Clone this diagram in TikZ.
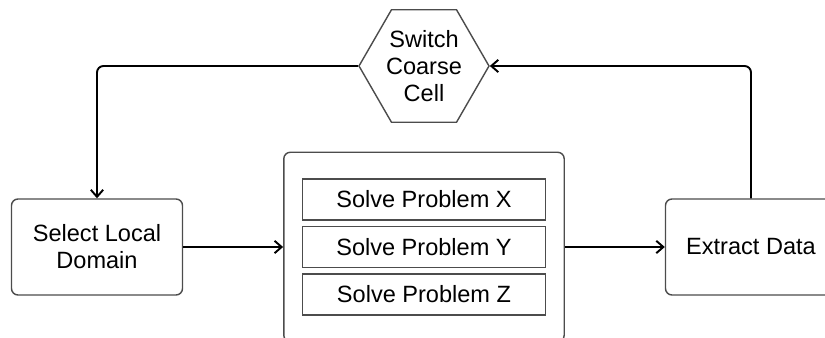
\documentclass[tikz,border=0pt]{standalone}
\usepackage{fontspec}
\setmainfont{Liberation Sans}
\usetikzlibrary{arrows.meta,shapes.geometric,fit}

\begin{document}
\begin{tikzpicture}[->,>={Straight Barb[length=4pt,width=7pt]},line width=1.1pt,
                    node distance=6.54cm,font=\fontsize{13.4}{15.4}\selectfont]

  \tikzstyle{stage}=[rectangle,rounded corners=0.13cm,draw=black!70,line width=0.8pt,
                     minimum width=3.42cm,minimum height=1.92cm,align=center]
  \tikzstyle{task}=[rectangle,draw=black!70,line width=0.8pt,
                    minimum width=4.86cm,minimum height=0.82cm]
  \tikzstyle{switch}=[regular polygon,regular polygon sides=6,draw=black!70,line width=0.8pt,
                      minimum size=2.6cm,inner sep=0pt,align=center]

  \clip (0,0) rectangle (16.5,-6.76);

  \node[stage] (SLD) at (1.94,-4.94) {Select Local \\ Domain};
  \node[task]  (SPY) [right of=SLD]                    {Solve Problem Y};
  \node[task]  (SPX) [above of=SPY,node distance=0.95cm] {Solve Problem X};
  \node[task]  (SPZ) [below of=SPY,node distance=0.95cm] {Solve Problem Z};
  \node[stage,fit=(SPX)(SPZ),inner xsep=0.36cm,inner ysep=0.52cm] (SLV) {};
  \node[stage] (EXD) [right of=SPY]                    {Extract Data};

  \node[switch] (SCC) [above of=SLV,node distance=3.62cm] {Switch \\ Coarse \\ Cell};

  \path
  (SLD) edge (SLV)
  (SLV) edge (EXD)
  (EXD.north) edge [rounded corners=0.13cm,to path={|- (\tikztotarget)}] (SCC.east)
  (SCC.west)  edge [rounded corners=0.13cm,to path={-| (\tikztotarget)}] (SLD.north)
  ;
\end{tikzpicture}
\end{document}
